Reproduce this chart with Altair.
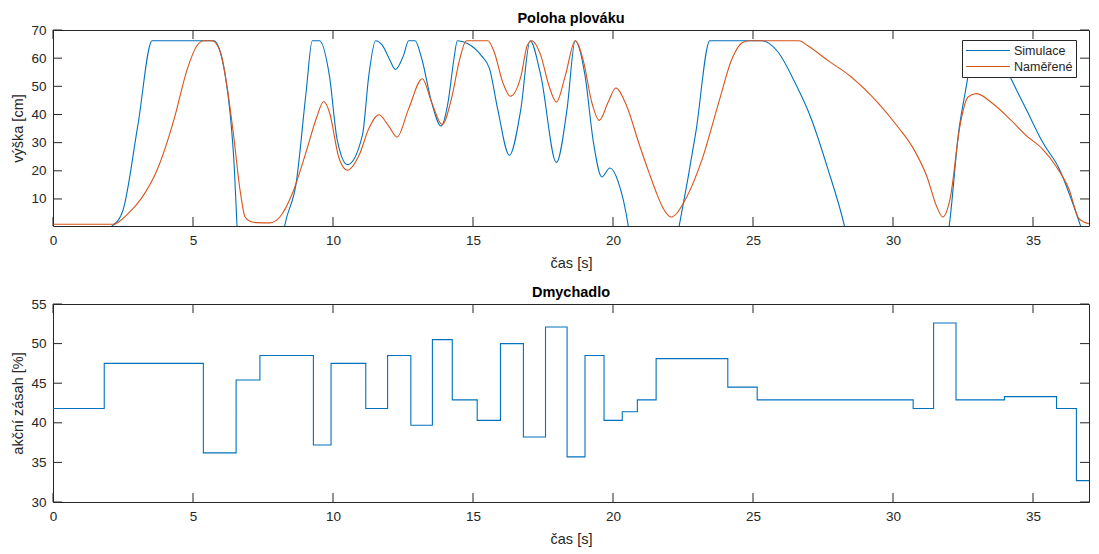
import altair as alt
import pandas as pd

# ---------------- data ----------------
sim_t = [0, 2.0, 2.15, 2.5, 3.03, 3.54, 5.74, 5.95, 6.15, 6.33, 6.47, 6.57, 6.7, 7.5, 8.1, 8.28,
         8.69, 9.04, 9.26, 9.52, 9.87, 10.15, 10.52, 11.05, 11.28, 11.52, 11.76, 12.0, 12.23, 12.52,
         12.70, 12.93, 13.17, 13.52, 13.86, 14.11, 14.32, 14.44, 14.82, 15.29, 15.59, 15.88, 16.30,
         16.71, 17.04, 17.42, 17.98, 18.36, 18.65, 19.0, 19.30, 19.6, 19.89, 20.19, 20.54, 20.8,
         21.6, 22.2, 22.37, 22.96, 23.46, 25.32, 25.9, 26.49, 27.08, 27.67, 28.26, 28.6, 30.0, 31.8,
         32.01, 32.33, 32.68, 32.85, 33.5, 33.85, 34.16, 34.75, 35.34, 35.93, 36.4, 36.69, 37.0]
sim_h = [0, 0, 0.7, 6.0, 36.1, 66.2, 66.2, 63, 54, 40, 22, 0.7, -25, -50, -10, 0.7,
         16, 48, 66.2, 66.2, 53.9, 31, 22.2, 32.6, 53.9, 66.2, 64.6, 60, 56, 61,
         66.2, 66.2, 59.8, 44.4, 35.9, 44.4, 59.8, 66.2, 65.1, 61, 56.3, 42, 25.5,
         42, 66.2, 53.9, 22.9, 42, 66.2, 53.9, 30.2, 17.8, 21, 16, 0.7, -20,
         -35, -8, 0.7, 33.8, 66.2, 66.2, 62.1, 51.5, 38.5, 20.8, 0.7, -15, -40, -10,
         0.7, 32.6, 53.9, 66.2, 66.2, 61, 53.9, 42, 30.2, 20.8, 9, 0.7, -8]

meas_t = [0, 2.15, 2.68, 3.15, 3.74, 4.33, 4.8, 5.15, 5.39, 5.68, 5.98, 6.21, 6.45, 6.69, 6.86,
          7.05, 7.28, 7.75, 8.1, 8.57, 9.04, 9.4, 9.67, 9.87, 10.22, 10.52, 10.93, 11.28, 11.64,
          11.99, 12.29, 12.70, 13.19, 13.52, 13.9, 14.23, 14.53, 14.76, 15.53, 15.76, 16.06, 16.33,
          16.72, 16.94, 17.1, 17.42, 17.71, 17.98, 18.3, 18.65, 18.95, 19.24, 19.51, 19.83, 20.1,
          20.48, 20.95, 21.3, 21.54, 21.8, 22.07, 22.6, 23.19, 23.78, 24.25, 24.61, 24.85, 26.64,
          26.96, 27.67, 28.5, 29.44, 30.15, 30.74, 31.21, 31.56, 31.78, 32.04, 32.39, 32.68, 32.98,
          33.57, 34.16, 34.75, 35.34, 35.81, 36.28, 36.64, 36.87, 37.0]
meas_h = [1.0, 1.0, 4.8, 10.1, 20.8, 38.5, 56.3, 64.6, 66.2, 66.2, 62.1, 50.3, 32.6, 12.5, 3.6,
          2.0, 1.6, 1.5, 3.6, 12.5, 26.7, 38.5, 44.6, 40.9, 24.3, 20.2, 25.5, 35, 39.9,
          35.9, 32, 42, 52.7, 44.4, 36.4, 45.6, 59.8, 66.2, 66.2, 62.1, 51.5, 46.5,
          53.9, 64.6, 66.2, 61, 50.3, 44.4, 53.9, 66.2, 58.7, 44.4, 37.9, 44.4, 49.4,
          43.2, 29, 19, 12.5, 6.5, 3.6, 10.1, 24.3, 44.4, 59.8, 65.5, 66.2, 66.2,
          64.4, 59.2, 53.4, 44.4, 35.9, 27.7, 18, 7.3, 3.6, 10.1, 35.9, 46.2, 47.4,
          43.8, 38.5, 32.6, 27.7, 21.8, 13.6, 3.0, 1.6, 1.2]

fan_t = [0, 1.83, 5.37, 6.54, 7.39, 9.30, 9.93, 11.17, 11.95, 12.78, 13.55, 14.26, 15.15, 15.98,
         16.80, 17.59, 18.36, 19.00, 19.68, 20.33, 20.87, 21.54, 24.10, 25.15, 30.72, 31.45,
         32.25, 33.98, 35.84, 36.55, 37.0]
fan_u = [41.8, 47.5, 36.2, 45.4, 48.5, 37.2, 47.5, 41.8, 48.5, 39.7, 50.5, 42.9, 40.3, 50.0,
         38.2, 52.1, 35.7, 48.5, 40.3, 41.4, 42.9, 48.1, 44.5, 42.9, 41.8, 52.6,
         42.9, 43.3, 41.8, 32.7, 32.7]

x_ticks = [0, 5, 10, 15, 20, 25, 30, 35]
top_y_ticks = [10, 20, 30, 40, 50, 60, 70]
bot_y_ticks = [30, 35, 40, 45, 50, 55]
series_names = ["Simulace", "Naměřené"]
series_colors = ["#0072BD", "#D95319"]

# ---------------- styling ----------------
FONT = "Liberation Sans"
TXT = "#262626"
TICK = 9
W = 1036
H1 = 196
H2 = 198
LW = 1.1

sim_df = pd.DataFrame({"t": sim_t, "h": sim_h, "s": series_names[0]})
meas_df = pd.DataFrame({"t": meas_t, "h": meas_h, "s": series_names[1]})
fan_df = pd.DataFrame({"t": fan_t, "u": fan_u})
xt_df = pd.DataFrame({"v": x_ticks})
yt_top_df = pd.DataFrame({"v": top_y_ticks})
yt_bot_df = pd.DataFrame({"v": bot_y_ticks})


def ax(values, title, title_pad=10):
    return alt.Axis(
        values=values, ticks=False, domain=False, grid=False, labelFlush=False,
        labelFont=FONT, labelFontSize=13.5, labelColor=TXT, labelPadding=7,
        title=title, titleFont=FONT, titleFontSize=14.5, titleColor=TXT,
        titleFontWeight="normal", titlePadding=title_pad,
    )


xs = alt.Scale(domain=[0, 37], nice=False, zero=False)
ys_top = alt.Scale(domain=[0.4, 70], nice=False, zero=False)
ys_bot = alt.Scale(domain=[30, 55], nice=False, zero=False)

X_AX = ax(x_ticks, "čas [s]")
YT_AX = ax(top_y_ticks, "výška [cm]", title_pad=5)
YB_AX = ax(bot_y_ticks, "akční zásah [%]", title_pad=5)


def inward_ticks(yscale, y_axis, ydf, height):
    """MATLAB-style ticks pointing into the plot on all four sides."""
    rx = alt.Chart(xt_df).mark_rule(color=TXT, strokeWidth=1)
    ry = alt.Chart(ydf).mark_rule(color=TXT, strokeWidth=1)
    xenc = alt.X("v:Q", scale=xs, axis=X_AX)
    yenc = alt.Y("v:Q", scale=yscale, axis=y_axis)
    return [
        rx.encode(x=xenc, y=alt.value(0), y2=alt.value(TICK)),
        rx.encode(x=xenc, y=alt.value(height), y2=alt.value(height - TICK)),
        ry.encode(y=yenc, x=alt.value(0), x2=alt.value(TICK)),
        ry.encode(y=yenc, x=alt.value(W), x2=alt.value(W - TICK)),
    ]


color = alt.Color(
    "s:N",
    scale=alt.Scale(domain=series_names, range=series_colors),
    legend=alt.Legend(
        title=None, orient="none", legendX=W - 127, legendY=10, direction="vertical",
        symbolType="stroke", symbolSize=1936, symbolStrokeWidth=LW, clipHeight=15,
        rowPadding=1, labelFont=FONT, labelFontSize=12.5, labelColor=TXT, labelOffset=3,
        padding=3, fillColor="white", strokeColor=TXT, zindex=3,
    ),
)

x_top = alt.X("t:Q", scale=xs, axis=X_AX)
y_top = alt.Y("h:Q", scale=ys_top, axis=YT_AX)

sim_layer = alt.Chart(sim_df).mark_line(clip=True, strokeWidth=LW, interpolate="monotone").encode(
    x=x_top, y=y_top, color=color,
)
meas_layer = alt.Chart(meas_df).mark_line(clip=True, strokeWidth=LW, interpolate="monotone").encode(
    x=x_top, y=y_top, color=color,
)
top = alt.layer(
    sim_layer, meas_layer, *inward_ticks(ys_top, YT_AX, yt_top_df, H1)
).properties(width=W, height=H1, title="Poloha plováku")

fan_line = alt.Chart(fan_df).mark_line(
    clip=True, strokeWidth=LW, interpolate="step-after", color="#0072BD"
).encode(
    x=alt.X("t:Q", scale=xs, axis=X_AX),
    y=alt.Y("u:Q", scale=ys_bot, axis=YB_AX),
)
bottom = alt.layer(
    fan_line, *inward_ticks(ys_bot, YB_AX, yt_bot_df, H2)
).properties(width=W, height=H2, title="Dmychadlo")

chart = (
    alt.vconcat(top, bottom, spacing=13)
    .properties(padding={"left": 2, "top": 2, "right": 1, "bottom": 0}, background="white")
    .configure_view(stroke=TXT, strokeWidth=1)
    .configure_title(font=FONT, fontSize=14.5, fontWeight="bold", color="#000000", offset=-3)
)

chart.save("out.html", embed_options={"renderer": "svg", "actions": False})
